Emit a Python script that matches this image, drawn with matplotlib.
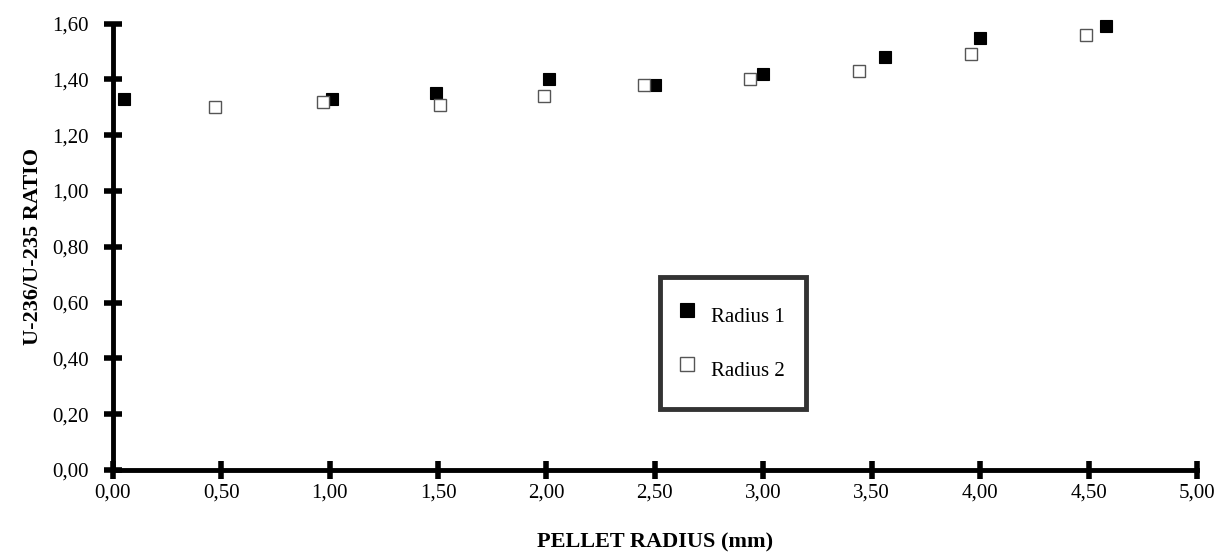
import matplotlib
matplotlib.use("Agg")
import matplotlib.pyplot as plt
from matplotlib.ticker import FuncFormatter

# --- Données ---
r1_x = [0.05, 1.01, 1.49, 2.01, 2.50, 3.00, 3.56, 4.00, 4.58]
r1_y = [1.33, 1.33, 1.35, 1.40, 1.38, 1.42, 1.48, 1.55, 1.59]
r2_x = [0.47, 0.97, 1.51, 1.99, 2.45, 2.94, 3.44, 3.96, 4.49]
r2_y = [1.30, 1.32, 1.31, 1.34, 1.38, 1.40, 1.43, 1.49, 1.56]

x_ticks = [0, 0.5, 1, 1.5, 2, 2.5, 3, 3.5, 4, 4.5, 5]
y_ticks = [0, 0.2, 0.4, 0.6, 0.8, 1.0, 1.2, 1.4, 1.6]

plt.rcParams['font.family'] = ['Liberation Serif', 'DejaVu Serif']

W, H = 1218, 560
fig = plt.figure(figsize=(W / 100, H / 100), dpi=100)
left, right, bottom, top = 112.7, 1197, 470, 23.6
ax = fig.add_axes([left / W, 1 - bottom / H, (right - left) / W, (bottom - top) / H])

ax.plot(r1_x, r1_y, 's', ms=9, mfc='black', mec='black', mew=0.8,
        label='Radius 1', clip_on=False)
ax.plot(r2_x, r2_y, 's', ms=9, mfc='white', mec='#555555', mew=1.0,
        label='Radius 2', clip_on=False)

ax.set_xlim(0, 5)
ax.set_ylim(0, 1.6)
ax.set_xticks(x_ticks)
ax.set_yticks(y_ticks)

# format avec virgule décimale
virgule = FuncFormatter(lambda v, p: f"{v:.2f}".replace('.', ','))
ax.xaxis.set_major_formatter(virgule)
ax.yaxis.set_major_formatter(virgule)

for s in ['top', 'right']:
    ax.spines[s].set_visible(False)
for s in ['left', 'bottom']:
    ax.spines[s].set_linewidth(3.5)

ax.tick_params(direction='inout', length=13, width=4, labelsize=15)
ax.tick_params(axis='x', pad=3)
ax.tick_params(axis='y', pad=11)

ax.set_xlabel('PELLET RADIUS (mm)', fontsize=16, fontweight='bold')
ax.xaxis.set_label_coords(0.5, -0.139)
ax.set_ylabel('U-236/U-235 RATIO', fontsize=16, fontweight='bold')
ax.yaxis.set_label_coords(-0.064, 0.5)

leg = ax.legend(loc='upper left', bbox_to_anchor=(660 / W, 1 - 277 / H),
                bbox_transform=fig.transFigure, borderaxespad=0,
                fontsize=15, frameon=True, fancybox=False, markerscale=1.1,
                borderpad=1.0, labelspacing=0.9, handlelength=0.6,
                handleheight=2.25, handletextpad=0.85)
leg.get_frame().set_edgecolor('black')
leg.get_frame().set_linewidth(3.5)

fig.savefig('out.png', dpi=100)
